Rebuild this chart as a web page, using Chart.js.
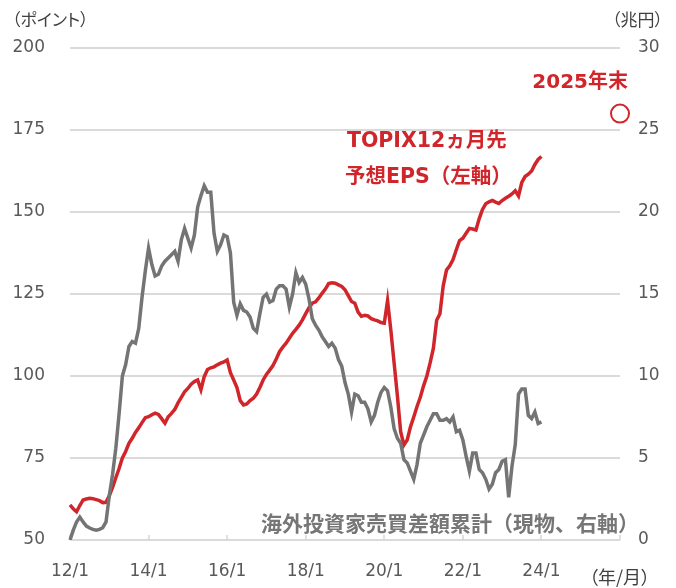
<!DOCTYPE html>
<html>
<head>
<meta charset="utf-8">
<script src="https://cdn.jsdelivr.net/npm/chart.js@4.4.1/dist/chart.umd.min.js"></script>
<style>
  body { margin: 0; background: #fff; }
  #wrap { position: relative; width: 676px; height: 588px; }
  .unit {
    position: absolute;
    font-family: 'Noto Sans CJK JP', sans-serif;
    font-feature-settings: "palt";
    color: #404040;
    line-height: 24px;
    white-space: nowrap;
  }
</style>
</head>
<body>
<div id="wrap">
  <canvas id="chart" width="676" height="588"></canvas>
  <div class="unit" style="left:12px; top:7px; font-size:17px;">（ポイント）</div>
  <div class="unit" style="left:612px; top:7px; font-size:17px;">（兆円）</div>
  <div class="unit" style="left:589px; top:564px; font-size:18px;">（年/月）</div>
</div>
<script>
// monthly, 12/1 .. 24/1
const eps = [
  60.7, 59.5, 58.6, 60.5, 62.2, 62.5, 62.7, 62.6, 62.3, 62.0, 61.4, 61.5,
  63.5, 66.0, 69.0, 71.8, 75.0, 77.0, 79.5, 81.0, 82.8, 84.2, 85.8, 87.3,
  87.6, 88.2, 88.7, 88.3, 87.0, 85.6, 87.6, 88.6, 89.8, 91.8, 93.5, 95.2,
  96.2, 97.5, 98.3, 98.8, 95.8, 99.8, 102.0, 102.5, 102.8, 103.4, 103.9, 104.3,
  104.9, 101.0, 98.8, 96.5, 92.5, 91.2, 91.5, 92.5, 93.2, 94.5, 96.5, 98.8,
  100.5, 101.8, 103.2, 105.2, 107.4, 108.8, 110.0, 111.5, 113.0, 114.2, 115.5, 117.1,
  119.0, 120.8, 122.2, 122.6, 123.8, 125.2, 126.5, 128.2, 128.4, 128.3, 127.8, 127.3,
  126.3, 124.5, 122.7, 122.2, 119.5, 118.2, 118.5, 118.3, 117.5, 117.1, 116.8, 116.3,
  116.1, 123.0, 114.0, 104.0, 94.0, 83.0, 79.0, 80.5, 84.5, 87.5, 90.7, 93.5,
  97.0, 100.0, 104.0, 108.5, 117.0, 119.0, 127.5, 132.3, 133.6, 135.5, 138.5, 141.3,
  142.0, 143.5, 145.0, 144.8, 144.5, 148.0, 150.8, 152.5, 153.1, 153.5, 153.0, 152.6,
  153.5, 154.2, 154.8, 155.5, 156.5, 154.9, 159.0, 160.8, 161.5, 162.5, 164.5, 166.0,
  166.9
];

const flows = [
  0.0, 0.6, 1.1, 1.4, 1.1, 0.85, 0.73, 0.65, 0.6, 0.65, 0.75, 1.1,
  2.7, 4.0, 5.6, 7.7, 10.0, 10.7, 11.8, 12.1, 12.0, 12.9, 14.8, 16.4,
  17.8, 16.8, 16.1, 16.2, 16.7, 17.0, 17.2, 17.4, 17.6, 17.0, 18.3, 19.0,
  18.4, 17.8, 18.6, 20.3, 21.0, 21.6, 21.2, 21.2, 18.7, 17.6, 18.0, 18.6,
  18.5, 17.5, 14.5, 13.7, 14.4, 14.0, 13.9, 13.6, 12.9, 12.7, 13.8, 14.8,
  15.0, 14.5, 14.6, 15.3, 15.5, 15.5, 15.3, 14.2, 15.0, 16.3, 15.7, 16.0,
  15.6, 14.7, 13.5, 13.1, 12.8, 12.4, 12.1, 11.8, 12.0, 11.7, 11.0, 10.6,
  9.6, 8.9, 7.8, 8.9, 8.8, 8.4, 8.4, 8.0, 7.2, 7.6, 8.4, 9.0,
  9.3, 9.1, 8.1, 6.8, 6.2, 5.9, 4.9, 4.7, 4.2, 3.7, 4.6, 5.9,
  6.4, 6.9, 7.3, 7.7, 7.7, 7.3, 7.3, 7.4, 7.2, 7.5, 6.6, 6.7,
  6.1, 5.1, 4.2, 5.3, 5.3, 4.3, 4.1, 3.7, 3.1, 3.4, 4.1, 4.3,
  4.8, 4.9, 2.6, 4.5, 5.8, 8.9, 9.2, 9.2, 7.6, 7.4, 7.8, 7.1,
  7.2
];

const target = [{ x: '26/1', y: 180 }];

const tickLabels = ['12/1', '14/1', '16/1', '18/1', '20/1', '22/1', '24/1'];
const tickMarks = ['12/1', '14/1', '16/1', '18/1', '20/1', '22/1', '24/1', '26/1'];

// month categories 12/1 .. 26/1
const months = [];
for (let y = 12; y <= 26; y++) {
  for (let m = 1; m <= 12; m++) {
    if (y === 26 && m > 1) break;
    months.push(y + '/' + m);
  }
}

const RED = '#d0262b';
const GRAY = '#747474';
const FONT = "'DejaVu Sans', 'Noto Sans CJK JP', sans-serif";

Chart.defaults.font.family = FONT;

// short tick marks pointing up into the plot
const innerTicks = {
  id: 'innerTicks',
  beforeDatasetsDraw(chart) {
    const { ctx, chartArea, scales } = chart;
    ctx.save();
    ctx.strokeStyle = '#d6d6d6';
    ctx.lineWidth = 1.5;
    tickMarks.forEach(lab => {
      const px = Math.round(scales.x.getPixelForValue(months.indexOf(lab)));
      ctx.beginPath();
      ctx.moveTo(px, chartArea.bottom);
      ctx.lineTo(px, chartArea.bottom - 5);
      ctx.stroke();
    });
    ctx.restore();
  }
};

const notes = {
  id: 'notes',
  afterDatasetsDraw(chart) {
    const { ctx, scales } = chart;
    const x = scales.x, yl = scales.yL;
    const at = (lab) => x.getPixelForValue(months.indexOf(lab));
    ctx.save();
    ctx.textBaseline = 'middle';

    ctx.fillStyle = RED;
    ctx.font = "bold 20px " + FONT;
    ctx.textAlign = 'right';
    ctx.fillText('2025年末', at('26/1') + 8, yl.getPixelForValue(189.3));

    ctx.font = "bold 20.5px " + FONT;
    ctx.textAlign = 'center';
    ctx.fillText('TOPIX12ヵ月先', at('21/2'), yl.getPixelForValue(171.5));
    ctx.font = "bold 20.5px " + FONT;
    ctx.fillText('予想EPS（左軸）', at('20/12') + 8, yl.getPixelForValue(160.6));

    ctx.fillStyle = '#767676';
    ctx.font = "bold 21px " + FONT;
    ctx.textAlign = 'right';
    ctx.fillText('海外投資家売買差額累計（現物、右軸）', at('26/1') + 19, yl.getPixelForValue(54.3));
    ctx.restore();
  }
};

new Chart(document.getElementById('chart'), {
  type: 'line',
  data: {
    labels: months,
    datasets: [
      {
        label: 'TOPIX12ヵ月先予想EPS（左軸）',
        data: eps,
        yAxisID: 'yL',
        borderColor: RED,
        borderWidth: 3.5,
        pointRadius: 0,
        tension: 0,
        order: 2
      },
      {
        label: '海外投資家売買差額累計（現物、右軸）',
        data: flows,
        yAxisID: 'yR',
        borderColor: GRAY,
        borderWidth: 3.5,
        pointRadius: 0,
        tension: 0,
        order: 1
      },
      {
        label: '2025年末',
        data: target,
        yAxisID: 'yL',
        showLine: false,
        pointRadius: 9,
        pointBorderWidth: 2,
        pointBorderColor: RED,
        pointBackgroundColor: 'rgba(255,255,255,0)',
        order: 0
      }
    ]
  },
  options: {
    responsive: false,
    animation: false,
    layout: { padding: { top: 48, left: 0, right: 0, bottom: 0 } },
    plugins: { legend: { display: false }, tooltip: { enabled: false } },
    scales: {
      x: {
        grid: { display: false, drawTicks: false },
        border: { display: false },
        afterFit(scale) { scale.height = 48; },
        ticks: {
          autoSkip: false,
          maxRotation: 0,
          padding: 21,
          color: '#595959',
          font: { size: 17 },
          callback(value) {
            const lab = this.getLabelForValue(value);
            return tickLabels.includes(lab) ? lab : '';
          }
        }
      },
      yL: {
        position: 'left',
        min: 50,
        max: 200,
        afterFit(scale) { scale.width = 70; },
        grid: { color: '#dadada', lineWidth: 2, drawTicks: false },
        border: { display: false },
        ticks: { stepSize: 25, padding: 25, color: '#595959', font: { size: 17 } }
      },
      yR: {
        position: 'right',
        min: 0,
        max: 30,
        afterFit(scale) { scale.width = 56; },
        grid: { display: false, drawTicks: false },
        border: { display: false },
        ticks: { stepSize: 5, padding: 18, color: '#595959', font: { size: 17 } }
      }
    }
  },
  plugins: [innerTicks, notes]
});
</script>
</body>
</html>
